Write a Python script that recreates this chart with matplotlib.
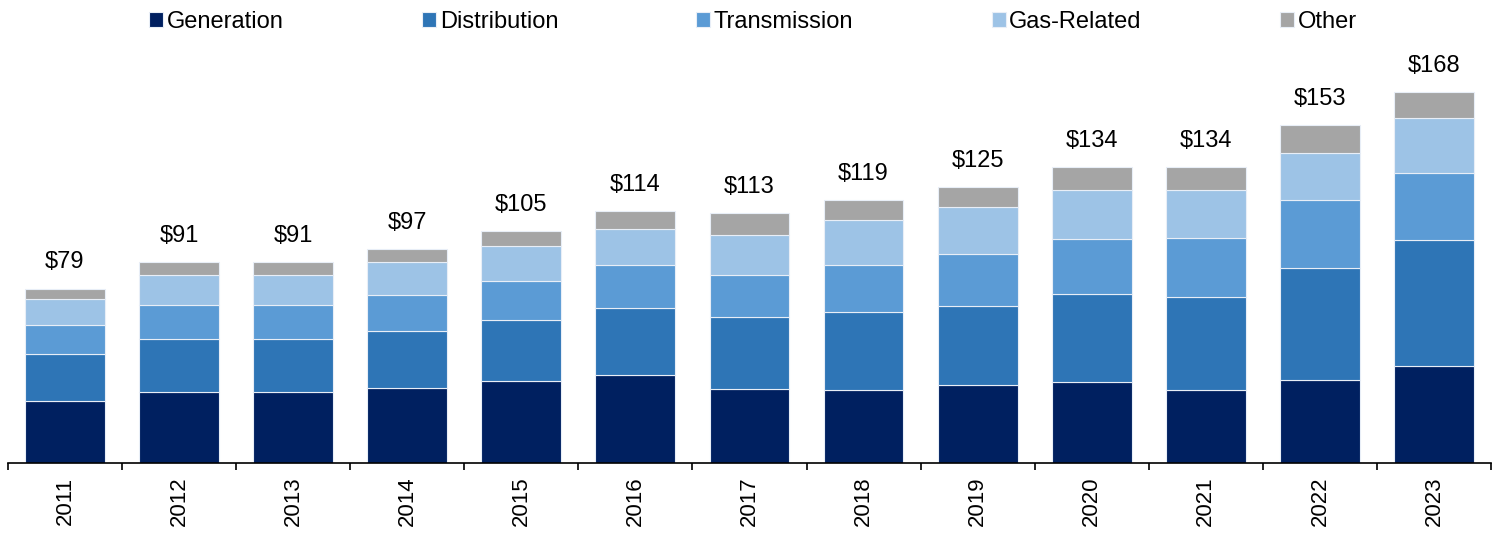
import matplotlib
matplotlib.use("Agg")
import matplotlib.pyplot as plt
import numpy as np

years = ["2011", "2012", "2013", "2014", "2015", "2016", "2017",
         "2018", "2019", "2020", "2021", "2022", "2023"]
generation = [28, 32, 32, 34, 37, 40, 33.5, 33, 35.5, 36.5, 33, 37.5, 44]
distribution = [21.3, 24.1, 24.1, 25.9, 27.7, 30.4, 32.6, 35.4, 35.4, 39.9, 42.2, 50.9, 56.8]
transmission = [13.2, 15.4, 15.4, 16.3, 17.7, 19.1, 19.1, 21.4, 23.6, 25.0, 26.8, 30.9, 30.4]
gas_related = [11.8, 13.6, 13.6, 14.6, 15.9, 16.4, 18.2, 20.4, 21.4, 22.3, 21.4, 21.3, 25.0]
other = [4.7, 5.9, 5.9, 6.2, 6.7, 8.1, 9.6, 8.8, 9.1, 10.3, 10.6, 12.4, 11.8]
totals = [79, 91, 91, 97, 105, 114, 113, 119, 125, 134, 134, 153, 168]

plt.rcParams['font.family'] = ['Liberation Sans', 'DejaVu Sans']

series = [
    ("Generation", generation, "#002060"),
    ("Distribution", distribution, "#2E75B6"),
    ("Transmission", transmission, "#5B9BD5"),
    ("Gas-Related", gas_related, "#9DC3E6"),
    ("Other", other, "#A5A5A5"),
]

fig = plt.figure(figsize=(14.97, 5.34), dpi=100)
ax = fig.add_axes([0.0053, 0.133, 0.9907, 0.765])

x = np.arange(len(years))
bottom = np.zeros(len(years))
for name, vals, color in series:
    ax.bar(x, vals, 0.70, bottom=bottom, color=color, label=name,
           edgecolor="#e8eef7", linewidth=0.8)
    bottom += np.array(vals)

# total labels above each stack
for xi, top, tot in zip(x, bottom, totals):
    ax.annotate(f"${tot}", (xi, top), xytext=(0, 11), textcoords="offset points",
                ha="center", va="bottom", fontsize=17)

ax.set_xlim(-0.5, len(years) - 0.5)
ax.set_ylim(0, 185)
ax.set_yticks([])
for side in ["left", "right", "top"]:
    ax.spines[side].set_visible(False)
ax.spines["bottom"].set_linewidth(1.2)

ax.set_xticks(x)
ax.set_xticklabels(years, rotation=90, fontsize=16)
ax.tick_params(axis="x", which="major", length=0, pad=10)
ax.set_xticks(np.arange(-0.5, len(years), 1), minor=True)
ax.tick_params(axis="x", which="minor", length=5, width=1.2, direction="out")

fig.legend(loc="center", bbox_to_anchor=(0.503, 0.959), ncol=5, frameon=False,
           fontsize=17, handlelength=0.6, handleheight=0.6, handletextpad=0.15,
           columnspacing=5.85)

plt.savefig("out.png", dpi=100)
